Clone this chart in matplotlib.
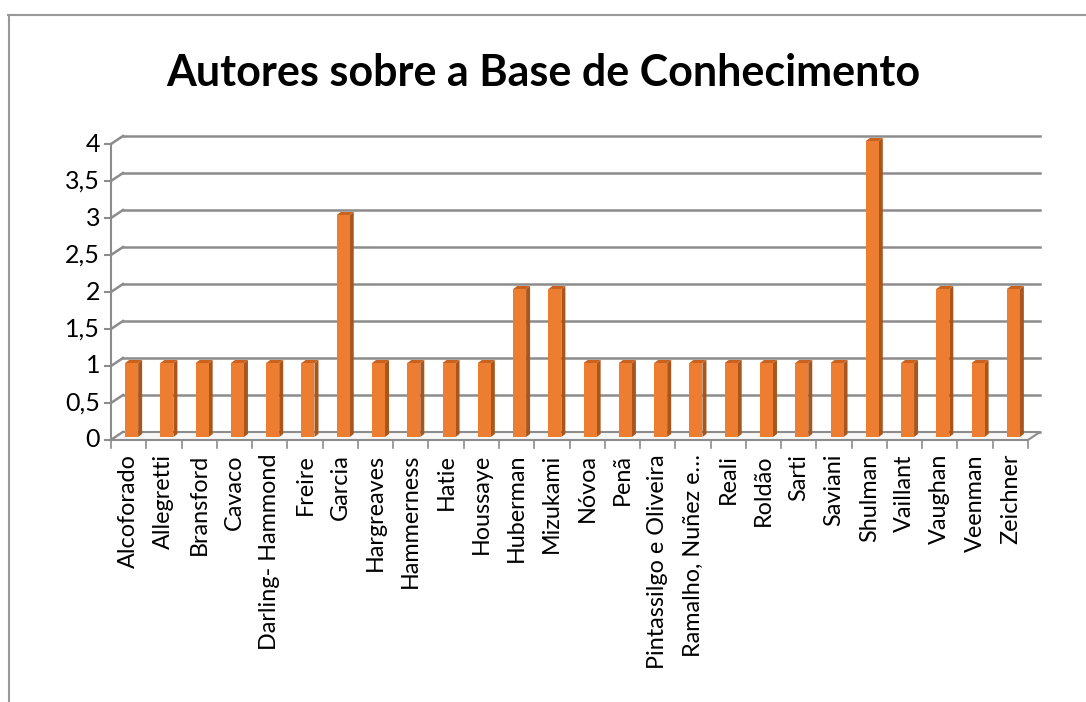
#!/usr/bin/env python3
from matplotlib import pyplot as plt
from matplotlib.patches import Polygon
from matplotlib.lines import Line2D

autores = ['Alcoforado', 'Allegretti', 'Bransford', 'Cavaco', 'Darling- Hammond',
           'Freire', 'Garcia', 'Hargreaves', 'Hammerness', 'Hatie', 'Houssaye',
           'Huberman', 'Mizukami', 'Nóvoa', 'Penã', 'Pintassilgo e Oliveira',
           'Ramalho, Nuñez e…', 'Reali', 'Roldão', 'Sarti', 'Saviani', 'Shulman',
           'Vaillant', 'Vaughan', 'Veenman', 'Zeichner']
valores = [1, 1, 1, 1, 1, 1, 3, 1, 1, 1, 1, 2, 2, 1, 1, 1, 1, 1, 1, 1, 1, 4, 1, 2, 1, 2]
y_ticks = [0, 0.5, 1, 1.5, 2, 2.5, 3, 3.5, 4]
y_labels = ['0', '0,5', '1', '1,5', '2', '2,5', '3', '3,5', '4']
titulo = 'Autores sobre a Base de Conhecimento'

FONT = 'Lato'
GRID = '#8c8c8c'
FRONT = '#ed7d31'
SIDE = '#a9561c'
TOP = '#c9621f'


def main():
    W, H = 1086, 702
    fig = plt.figure(figsize=(W / 100, H / 100), dpi=100)

    # frame of the chart area (only top and left visible)
    fig.add_artist(Line2D([8 / W, 1], [1 - 15 / H, 1 - 15 / H], color='#999999', lw=1.5))
    fig.add_artist(Line2D([8.5 / W, 8.5 / W], [0, 1 - 15 / H], color='#999999', lw=1.5))

    # front plane of the plot in pixels
    x0, x1, yb, yt = 111, 1028, 440, 144
    ax = fig.add_axes([x0 / W, 1 - yb / H, (x1 - x0) / W, (yb - yt) / H])
    n = len(autores)
    ymax = 4
    ax.set_xlim(0, n)
    ax.set_ylim(0, ymax)
    ax.axis('off')

    # pixel -> data units
    ux = n / (x1 - x0)
    uy = ymax / (yb - yt)
    bx, by = 12 * ux, 8 * uy      # depth of the back wall

    # back wall gridlines and side stubs
    for v, lab in zip(y_ticks, y_labels):
        ax.plot([bx, n + bx], [v + by, v + by], color=GRID, lw=1.8, clip_on=False, zorder=1)
        ax.plot([0, bx], [v, v + by], color=GRID, lw=1.8, clip_on=False, zorder=1)
        ax.plot([-6 * ux, 0], [v, v], color=GRID, lw=1.5, clip_on=False, zorder=1)
        ax.text(-11 * ux, v, lab, ha='right', va='center', fontsize=18, family=FONT)
    ax.plot([0, 0], [0, ymax], color=GRID, lw=1.5, clip_on=False, zorder=1)

    # floor
    floor = Polygon([(0, 0), (n, 0), (n + bx, by), (bx, by)], closed=True,
                    facecolor='#f7f7f7', edgecolor=GRID, lw=1.5, clip_on=False, zorder=1)
    ax.add_patch(floor)
    for i in range(n + 1):
        ax.plot([i, i], [0, -8 * uy], color=GRID, lw=1.2, clip_on=False, zorder=1)

    # 3d-ish bars
    w = 13 * ux
    dx, dy = 4 * ux, 3 * uy
    ox, oy = 3 * ux, 3 * uy
    for i, v in enumerate(valores):
        left = i + 0.5 - w / 2 + ox
        ax.add_patch(Polygon([(left + w, oy), (left + w + dx, oy + dy),
                              (left + w + dx, v + oy + dy), (left + w, v + oy)],
                             closed=True, facecolor=SIDE, edgecolor='none', zorder=3,
                             clip_on=False))
        ax.add_patch(Polygon([(left, v + oy), (left + w, v + oy),
                              (left + w + dx, v + oy + dy), (left + dx, v + oy + dy)],
                             closed=True, facecolor=TOP, edgecolor='none', zorder=3,
                             clip_on=False))
    bars = ax.bar([i + 0.5 + ox for i in range(n)], valores, width=w, bottom=oy,
                  color=FRONT, zorder=4)
    for b in bars:
        b.set_clip_on(False)

    # category labels
    for i, a in enumerate(autores):
        ax.text(i + 0.5, -14 * uy, a, rotation=90, ha='center', va='top',
                fontsize=16.8, family=FONT)

    fig.text(0.5, 1 - 73 / H, titulo, ha='center', va='center', fontsize=31,
             fontweight='bold', family=FONT)

    fig.savefig('out.png', dpi=100)


if __name__ == "__main__":
    main()
